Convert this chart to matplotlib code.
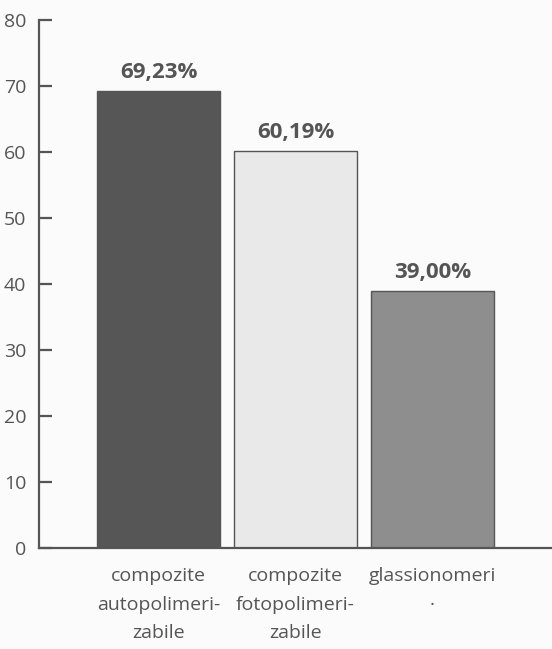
import matplotlib.pyplot as plt
import numpy as np

plt.rcParams['font.family'] = ['Open Sans', 'DejaVu Sans']

categories = ["compozite\nautopolimeri-\nzabile", "compozite\nfotopolimeri-\nzabile", "glassionomeri\n·"]
values = [69.23, 60.19, 39.00]
value_labels = ["69,23%", "60,19%", "39,00%"]
bar_colors = ["#565656", "#e9e9e9", "#8e8e8e"]
ink = "#555555"

fig = plt.figure(figsize=(5.52, 6.49), dpi=100, facecolor="#fbfbfb")
ax = fig.add_axes([39 / 552, 1 - 548 / 649, 1 - 39 / 552, (548 - 20) / 649])
ax.set_facecolor("none")

x = np.arange(len(values))
bars = ax.bar(x, values, width=0.9, color=bar_colors, edgecolor=ink, linewidth=1.0)

for b, lab in zip(bars, value_labels):
    ax.text(b.get_x() + b.get_width() / 2, b.get_height() + 1.2, lab,
            ha="center", va="bottom", fontsize=16, fontweight="bold", color=ink)

ax.set_xlim(-0.872, 2.872)
ax.set_ylim(0, 80)
ax.set_yticks(range(0, 81, 10))
ax.set_xticks(x)
ax.set_xticklabels(categories, fontsize=14, color=ink, linespacing=1.75)

for s in ["top", "right"]:
    ax.spines[s].set_visible(False)
for s in ["left", "bottom"]:
    ax.spines[s].set_color(ink)
    ax.spines[s].set_linewidth(1.6)

ax.tick_params(axis="y", direction="in", length=9, width=1.6, color=ink,
               labelsize=14, labelcolor=ink, pad=9)
ax.tick_params(axis="x", length=0, pad=14)

fig.savefig("out.png", dpi=100, facecolor=fig.get_facecolor())
